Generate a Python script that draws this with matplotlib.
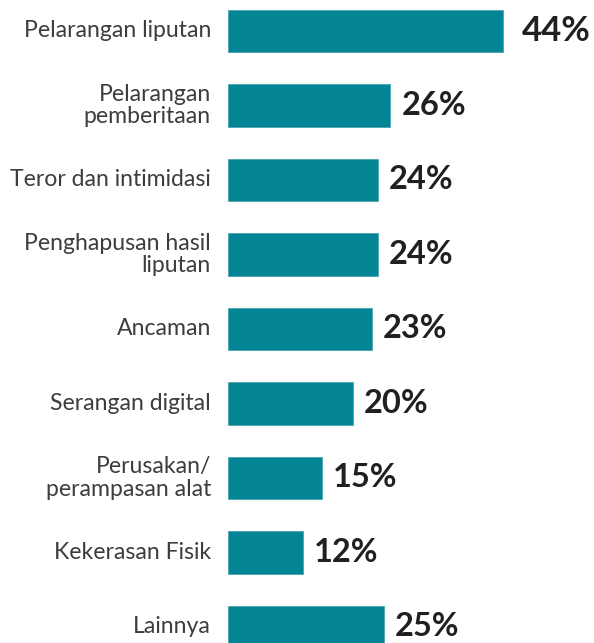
import matplotlib.pyplot as plt

# data
categories = ["Pelarangan liputan", "Pelarangan\npemberitaan", "Teror dan intimidasi",
              "Penghapusan hasil\nliputan", "Ancaman", "Serangan digital",
              "Perusakan/\nperampasan alat", "Kekerasan Fisik", "Lainnya"]
values = [44, 26, 24, 24, 23, 20, 15, 12, 25]
value_labels = ["44%", "26%", "24%", "24%", "23%", "20%", "15%", "12%", "25%"]

bar_color = "#048595"
label_color = "#3d3d3d"
value_color = "#231f20"

plt.rcParams['font.family'] = ['Lato', 'DejaVu Sans']

fig = plt.figure(figsize=(5.94, 6.43), dpi=100)
ax = fig.add_axes([228 / 594, 0, 364 / 594, 1])

ypos = list(range(len(values)))
ax.barh(ypos, values, height=0.565, color=bar_color, edgecolor="#4aa6b1", linewidth=0.6)

ax.set_xlim(0, 58.3)
ax.set_ylim(8.215, -0.416)
ax.axis("off")

for y, cat, v, lab in zip(ypos, categories, values, value_labels):
    ax.annotate(cat, xy=(0, y), xytext=(-17, 0), textcoords="offset pixels",
                ha="right", va="center", fontsize=16.6, color=label_color,
                linespacing=1.08)
    size = 25 if v == max(values) else 23.5
    pad = 19 if v == max(values) else 11
    ax.annotate(lab, xy=(v, y), xytext=(pad, 0), textcoords="offset pixels",
                ha="left", va="center", fontsize=size, fontweight="bold",
                color=value_color)

fig.savefig("out.png", dpi=100)
